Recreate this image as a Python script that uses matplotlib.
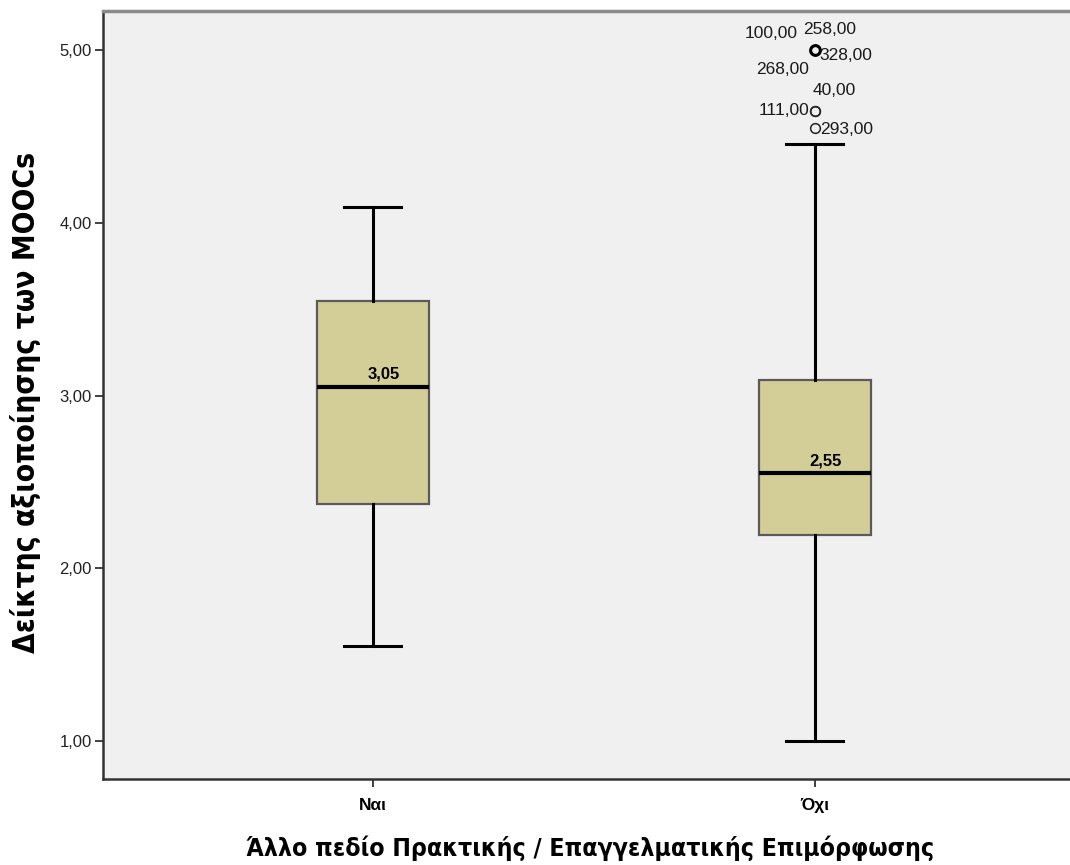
import matplotlib
matplotlib.use("Agg")
import matplotlib.pyplot as plt

# --- data -------------------------------------------------------------
categories = ["Ναι", "Όχι"]
whisker_low = [1.55, 1.00]
q1 = [2.37, 2.19]
medians = [3.05, 2.55]
q3 = [3.55, 3.09]
whisker_high = [4.09, 4.46]
median_labels = ["3,05", "2,55"]

# outliers of the "Όχι" group: (value, case id)
outlier_values = [5.00, 5.00, 5.00, 5.00, 4.65, 4.65, 4.55]
outlier_ids = ["100,00", "258,00", "328,00", "268,00", "40,00", "111,00", "293,00"]

y_ticks = [1.0, 2.0, 3.0, 4.0, 5.0]
y_tick_labels = ["1,00", "2,00", "3,00", "4,00", "5,00"]
x_title = "Άλλο πεδίο Πρακτικής / Επαγγελματικής Επιμόρφωσης"
y_title = "Δείκτης αξιοποίησης των MOOCs"

# --- styling ----------------------------------------------------------
plt.rcParams["font.family"] = ["Liberation Sans", "DejaVu Sans"]

BOX_FILL = "#D3CE98"
BG = "#F0F0F0"

fig = plt.figure(figsize=(10.70, 8.65), dpi=100)
ax = fig.add_axes([0.0963, 0.0995, 0.91, 0.8875])
ax.set_facecolor(BG)

positions = [1, 2]
stats = []
for i, c in enumerate(categories):
    stats.append(dict(label=c, med=medians[i], q1=q1[i], q3=q3[i],
                      whislo=whisker_low[i], whishi=whisker_high[i], fliers=[]))

ax.bxp(stats, positions=positions, widths=0.254, capwidths=0.13,
       patch_artist=True, showfliers=False,
       boxprops=dict(facecolor=BOX_FILL, edgecolor="#5a5a5a", linewidth=1.6),
       medianprops=dict(color="black", linewidth=3.0),
       whiskerprops=dict(color="black", linewidth=2.2),
       capprops=dict(color="black", linewidth=2.2))

# median value labels
for p, m, lab in zip(positions, medians, median_labels):
    ax.annotate(lab, (p, m), xytext=(11, 5), textcoords="offset pixels",
                ha="center", va="bottom", fontsize=12, fontweight="bold")

# outliers
ox = [2] * len(outlier_values)
ax.plot(ox, outlier_values, linestyle="none", marker="o", markersize=7,
        markerfacecolor="none", markeredgecolor="#222222", markeredgewidth=1.1)
ax.plot([2], [outlier_values[0]], linestyle="none", marker="o", markersize=7,
        markerfacecolor="none", markeredgecolor="black", markeredgewidth=2.2)

label_offsets = {
    "100,00": ((-17, 17), "right"),
    "258,00": ((-12, 21), "left"),
    "328,00": ((5, -5), "left"),
    "268,00": ((-6, -19), "right"),
    "40,00": ((-2, 20), "left"),
    "111,00": ((-5, 0), "right"),
    "293,00": ((5, -2), "left"),
}
for v, cid in zip(outlier_values, outlier_ids):
    off, ha = label_offsets[cid]
    ax.annotate(cid, (2, v), xytext=off, textcoords="offset pixels",
                ha=ha, va="center", fontsize=12.5, color="#1a1a1a")

# axes
ax.set_xlim(0.39, 2.593)
ax.set_ylim(0.78, 5.226)
ax.set_yticks(y_ticks)
ax.set_yticklabels(y_tick_labels)
ax.set_xticks(positions)
ax.set_xticklabels(categories, fontweight="bold")
ax.tick_params(axis="y", length=6, width=1.3, color="#333333", labelsize=12,
               labelcolor="#222222", pad=2)
ax.tick_params(axis="x", length=6, width=1.3, color="#333333", labelsize=12.5,
               pad=8)
for side in ["left", "bottom"]:
    ax.spines[side].set_linewidth(1.8)
    ax.spines[side].set_color("#333333")
ax.spines["top"].set_linewidth(2.5)
ax.spines["top"].set_color("#8a8a8a")
ax.spines["right"].set_visible(False)

ax.set_xlabel(x_title, family="DejaVu Sans", stretch="condensed",
              fontweight="bold", fontsize=17.8, labelpad=16)
ax.set_ylabel(y_title, family="DejaVu Sans", stretch="condensed",
              fontweight="bold", fontsize=21.5)
ax.yaxis.set_label_coords(-0.064, 0.491)

fig.savefig("out.png", dpi=100, facecolor="white")
